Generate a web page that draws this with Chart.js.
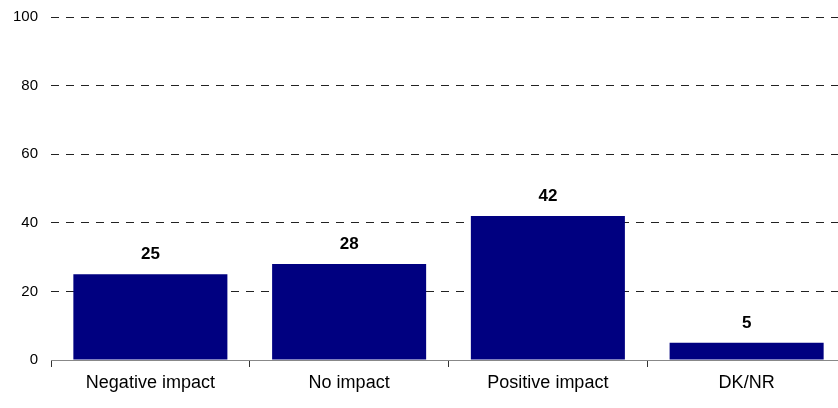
<!DOCTYPE html>
<html>
<head>
<meta charset="utf-8">
<script src="https://cdn.jsdelivr.net/npm/chart.js@4"></script>
<style>
  html, body { margin: 0; padding: 0; background: #fff; overflow: hidden; }
  #wrap { position: relative; width: 846px; height: 408px; }
</style>
</head>
<body>
<div id="wrap"><canvas id="chart"></canvas></div>
<script>
// categories and shares (%)
const categories = ['Negative impact', 'No impact', 'Positive impact', 'DK/NR'];
const values = [25, 28, 42, 5];
const yTicks = [0, 20, 40, 60, 80, 100];

const FONT = 'Arial, "Liberation Sans", sans-serif';

// value printed above each bar
const valueLabels = {
  id: 'valueLabels',
  afterDatasetsDraw(chart) {
    const { ctx } = chart;
    const meta = chart.getDatasetMeta(0);
    ctx.save();
    ctx.font = 'bold 17px ' + FONT;
    ctx.fillStyle = '#000';
    ctx.textAlign = 'center';
    ctx.textBaseline = 'middle';
    meta.data.forEach((bar, i) => {
      ctx.fillText(String(values[i]), bar.x, bar.y - 20);
    });
    ctx.restore();
  }
};

new Chart(document.getElementById('chart'), {
  type: 'bar',
  data: {
    labels: categories,
    datasets: [{
      data: values,
      backgroundColor: '#000080',
      barPercentage: 0.775,
      categoryPercentage: 1
    }]
  },
  options: {
    responsive: true,
    maintainAspectRatio: false,
    animation: false,
    layout: { padding: { top: 17, left: 0, right: 0, bottom: 0 } },
    plugins: { legend: { display: false }, tooltip: { enabled: false } },
    scales: {
      x: {
        grid: {
          offset: true,
          drawOnChartArea: false,
          tickLength: 7,
          tickColor: '#333',
          tickWidth: 1
        },
        border: { color: '#888', width: 1 },
        ticks: { color: '#000', font: { family: FONT, size: 18 }, padding: 5, maxRotation: 0 },
        afterFit(scale) { scale.height = 48; }
      },
      y: {
        min: 0,
        max: 100,
        afterBuildTicks(scale) { scale.ticks = yTicks.map(v => ({ value: v })); },
        grid: {
          color: (c) => c.tick && c.tick.value === 0 ? 'rgba(0,0,0,0)' : '#222',
          lineWidth: 1,
          drawTicks: false
        },
        border: { display: false, dash: [8, 7] },
        ticks: { color: '#000', font: { family: FONT, size: 15 }, padding: 13 },
        afterFit(scale) {
          scale.width = 51;
          scale.paddingTop = 0;
          scale.paddingBottom = 0;
        }
      }
    }
  },
  plugins: [valueLabels]
});
</script>
</body>
</html>
